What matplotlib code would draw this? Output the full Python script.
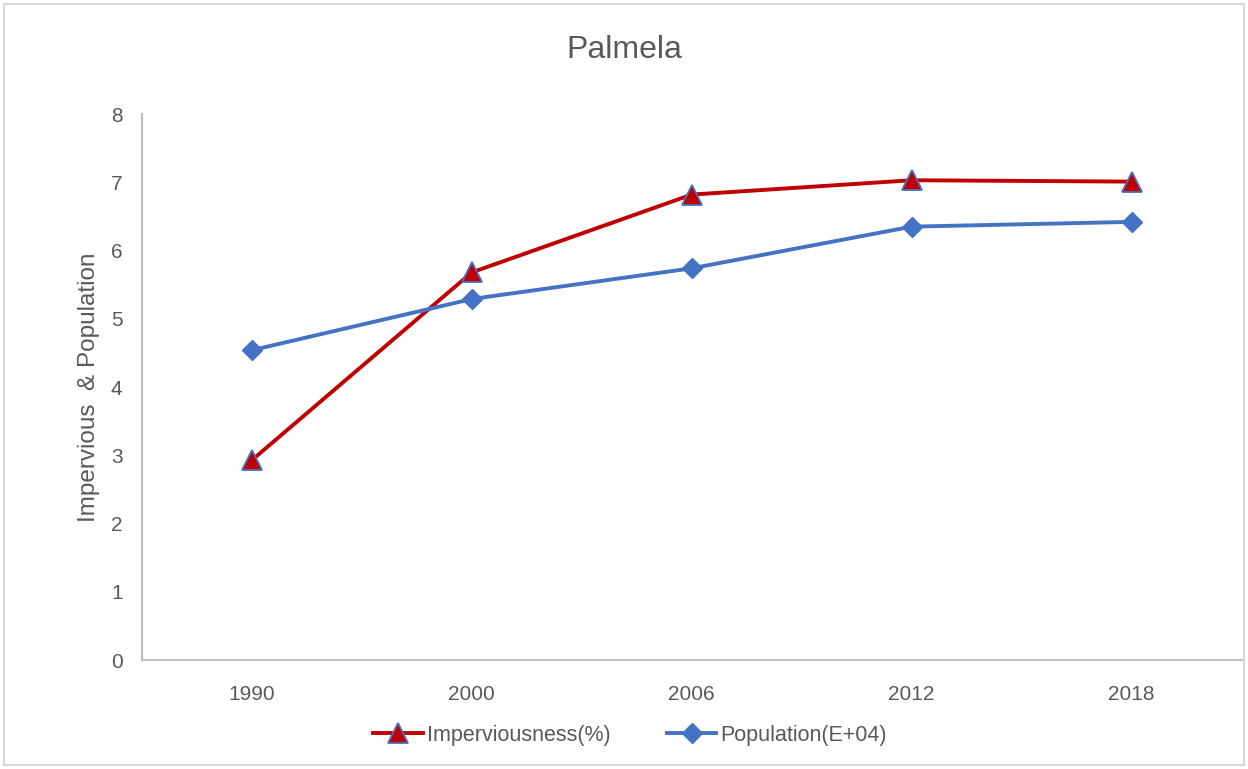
import matplotlib.pyplot as plt
from matplotlib.patches import Rectangle

years = ["1990", "2000", "2006", "2012", "2018"]
imperviousness = [2.93, 5.68, 6.82, 7.03, 7.01]
population = [4.54, 5.29, 5.74, 6.35, 6.42]

plt.rcParams["font.family"] = ["Liberation Sans", "DejaVu Sans"]
gray = "#595959"

fig = plt.figure(figsize=(12.48, 7.69), dpi=100)
ax = fig.add_axes([0.1138, 0.1417, 0.881, 0.71])

x = range(len(years))
ax.plot(x, imperviousness, color="#C00000", lw=2.8, marker="^", ms=14,
        mfc="#C00000", mec="#4472C4", mew=1.3, label="Imperviousness(%)", zorder=3)
ax.plot(x, population, color="#4472C4", lw=2.8, marker="D", ms=10.5,
        mfc="#4472C4", mec="#4472C4", label="Population(E+04)", zorder=3)

ax.set_xlim(-0.5, len(years) - 0.5)
ax.set_ylim(0, 8)
ax.set_xticks(list(x))
ax.set_xticklabels(years)
ax.set_yticks(range(0, 9))
ax.tick_params(length=0, labelsize=15, colors=gray)
ax.tick_params(axis="x", pad=18)
ax.tick_params(axis="y", pad=14)
for s in ["top", "right"]:
    ax.spines[s].set_visible(False)
for s in ["left", "bottom"]:
    ax.spines[s].set_color("#BFBFBF")
    ax.spines[s].set_linewidth(1.5)

ax.set_ylabel("Impervious  & Population", fontsize=17.5, color=gray, labelpad=8)
fig.suptitle("Palmela", fontsize=23, color=gray, y=0.955)

leg = fig.legend(loc="center", bbox_to_anchor=(0.505, 0.044), ncol=2, frameon=False,
                 fontsize=15.5, handlelength=2.3, columnspacing=2.6, handletextpad=0.2)
for t in leg.get_texts():
    t.set_color(gray)

fig.patches.append(Rectangle((0.003, 0.005), 0.994, 0.99, transform=fig.transFigure,
                             fill=False, edgecolor="#D9D9D9", lw=1.5))

fig.savefig("out.png", dpi=100)
